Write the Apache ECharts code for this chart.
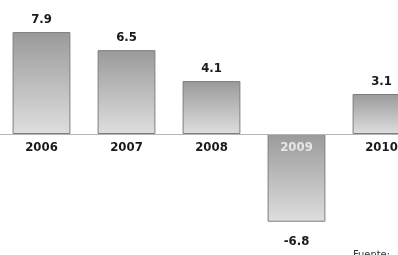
<!DOCTYPE html>
<html>
<head>
<meta charset="utf-8">
<script src="https://cdn.jsdelivr.net/npm/echarts@6.0.0/dist/echarts.min.js"></script>
<style>
  html, body { margin: 0; padding: 0; background: #fff; }
  #chart { width: 398px; height: 255px; }
</style>
</head>
<body>
<div id="chart"></div>
<script>
const years = ['2006', '2007', '2008', '2009', '2010'];
const growth = [7.9, 6.5, 4.1, -6.8, 3.1];

const labelFont = '"Liberation Sans Narrow", "DejaVu Sans Condensed", sans-serif';

const barGradient = new echarts.graphic.LinearGradient(0, 0, 0, 1, [
  { offset: 0, color: '#9a9a9a' },
  { offset: 1, color: '#dedede' },
]);

const chart = echarts.init(document.getElementById('chart'));

// zero line sits at y=134, grid bottom at 237.2
chart.setOption({
  animation: false,
  grid: {
    left: -1,
    width: 425,
    top: 30.8,
    height: 206.4,
    containLabel: false,
    outerBoundsMode: 'none',
  },
  xAxis: {
    type: 'category',
    data: years,
    offset: -103.2,
    z: 5,
    axisTick: { show: false },
    axisLine: {
      onZero: false,
      lineStyle: { color: '#b5b5b5', width: 1 },
    },
    axisLabel: {
      interval: 0,
      margin: 7,
      color: '#1a1a1a',
      fontFamily: labelFont,
      fontWeight: 'bold',
      fontSize: 13,
      formatter: (v) => (v === '2009' ? '{w|' + v + '}' : v),
      rich: {
        w: {
          color: '#e6e6e6',
          fontFamily: labelFont,
          fontWeight: 'bold',
          fontSize: 13,
          padding: [0, 0, 6, 0],
        },
      },
    },
  },
  yAxis: {
    type: 'value',
    min: -8,
    max: 8,
    show: false,
    splitLine: { show: false },
  },
  series: [
    {
      type: 'bar',
      barWidth: '68%',
      data: growth.map((v) => ({
        value: v,
        label: v < 0 ? { position: 'bottom', distance: 13 } : undefined,
      })),
      itemStyle: {
        color: barGradient,
        borderColor: '#7d7d7d',
        borderWidth: 1,
      },
      label: {
        show: true,
        position: 'top',
        distance: 6,
        color: '#1a1a1a',
        fontFamily: labelFont,
        fontWeight: 'bold',
        fontSize: 13,
        formatter: (p) => p.value.toFixed(1),
      },
    },
  ],
  graphic: [
    {
      type: 'text',
      left: 353,
      top: 250,
      style: {
        text: 'Fuente:',
        fill: '#333',
        font: '11px ' + labelFont,
      },
    },
  ],
});
</script>
</body>
</html>
